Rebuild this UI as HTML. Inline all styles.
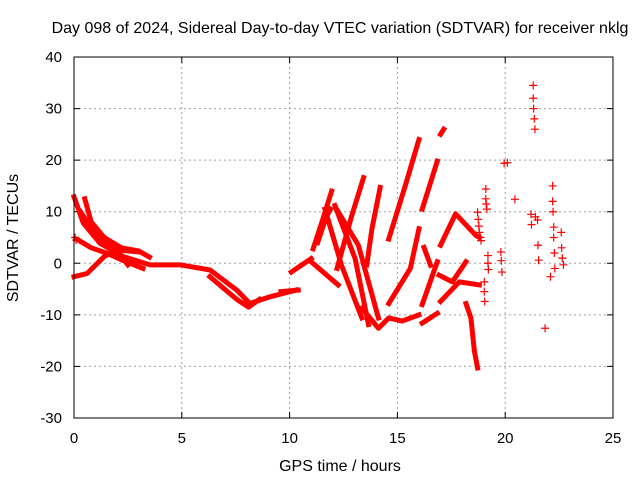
<!DOCTYPE html>
<html><head><meta charset="utf-8"><style>
body{margin:0;background:#fff}
svg{display:block;font-family:"Liberation Sans",sans-serif}
</style></head><body>
<svg id="chart" width="640" height="480">
<rect width="640" height="480" fill="#fff"/>
<text x="340" y="33" text-anchor="middle" font-size="16">Day 098 of 2024, Sidereal Day-to-day VTEC variation (SDTVAR) for receiver nklg</text>
<text x="340" y="471" text-anchor="middle" font-size="16">GPS time / hours</text>
<text transform="translate(18,238) rotate(-90)" text-anchor="middle" font-size="16">SDTVAR / TECUs</text>
<g id="grid"></g>
<g id="ticks"></g>
<g id="arcs"></g>
<g id="pts"></g>
<rect x="74" y="57" width="539" height="361" fill="none" stroke="#000" stroke-width="1"/>
</svg>
<script>
const xTicks=[0,5,10,15,20,25];
const yTicks=[-30,-20,-10,0,10,20,30,40];
// dense satellite arcs: [hours, TECU] pairs
const arcs=[
[[0,12.9],[0.43,7.8],[1.2,3.9],[2.29,1.3],[3.52,-0.3],[4.92,-0.3],[6.31,-1.3],[7.55,-5.2],[8.16,-7.8],[9.09,-6.5],[10.3,-5.2]],
[[6.3,-2.6],[7.55,-7],[8.1,-8.5],[8.6,-7]],
[[0.3,10],[0.93,6.1],[2,2.3],[2.5,-0.3]],
[[0.5,12.5],[0.8,8],[1.4,5],[2.2,3],[3,2.4],[3.5,1.2]],
[[0,-2.6],[0.6,-2.0],[1.4,1.3],[2.0,2.6],[3,2.2]],
[[0.2,4.5],[0.8,3],[1.5,2],[2.3,0.5],[3.2,-1]],
[[9.6,-5.5],[10.4,-5.2]],
[[10.08,-1.7],[11.0,0.9]],
[[11.09,2.8],[11.5,8],[11.95,14.0]],
[[11.3,4],[11.7,9],[11.9,10.5]],
[[12.2,-1],[12.88,9.2],[13.43,16.6]],
[[13.58,-0.3],[13.82,6.7],[14.2,14.7]],
[[14.6,4.7],[15.37,15.1],[16.0,24]],
[[16.15,10.5],[16.85,19.8]],
[[17.0,25],[17.15,26]],
[[14.6,-7.8],[15.6,-1],[16.0,6.7]],
[[16.15,-8],[16.85,0.3]],
[[16.23,3.1],[16.54,-0.4]],
[[17.0,3.5],[17.7,9.6],[18.64,5.4],[18.8,5]],
[[16.93,-2.3],[17.55,-3.6],[18.18,0.3]],
[[17.0,-7.4],[17.87,-3.6],[18.8,-4.2]],
[[18.18,-7.8],[18.41,-10.6],[18.57,-17],[18.72,-20.3]],
[[12.1,11.2],[13.04,0.9],[13.66,-11.9]],
[[11.64,10.5],[12.41,-0.4],[13.35,-10.6]],
[[12.18,10.5],[13.19,3.5],[14.12,-10.6]],
[[13.35,-8.7],[14.12,-12.6],[14.6,-10.6],[15.22,-11.2],[16.0,-10]],
[[11.0,0.3],[12.25,-4.2]],
[[16.15,-11.6],[16.85,-9.7]]
];
// sparse points
const sparseT=[0.05,0.1,18.72,18.75,18.78,18.8,18.85,18.88,19.1,19.1,19.12,19.15,19.2,19.2,19.22,19.03,19.03,19.05,19.8,19.82,19.85,20.1,19.95,20.45,21.3,21.3,21.32,21.35,21.38,21.2,21.22,21.5,21.52,21.55,21.4,21.85,22.1,22.2,22.2,22.22,22.25,22.25,22.28,22.3,22.6,22.62,22.65,22.7];
const sparseV=[5,4.5,9.9,8.5,7.2,6,5,4.4,14.4,12.5,11.5,10.5,1.5,0,-1.2,-3.6,-5.5,-7.4,2.2,0.5,-1.7,19.5,19.4,12.4,34.5,32,30,28,26,9.5,7.5,8.4,3.5,0.6,9,-12.6,-2.6,15,12,10,7,5,2,-1,6,3,1,-0.3];
const X=t=>74+t*539/25, Y=v=>57+(40-v)*361/70;
const NS="http://www.w3.org/2000/svg";
const g=document.getElementById('grid'),tk=document.getElementById('ticks'),ag=document.getElementById('arcs'),pg=document.getElementById('pts');
function mk(tag,at,par){const e=document.createElementNS(NS,tag);for(const k in at)e.setAttribute(k,at[k]);par.appendChild(e);return e;}
xTicks.forEach(t=>{const x=X(t);
 if(t>0&&t<25){const l=mk('line',{x1:x,x2:x,y1:57,y2:418,stroke:'#a0a0a0','stroke-dasharray':'2,3'},g);
 
 }
 const m=mk('path',{d:`M${x},418v-6M${x},57v6`,stroke:'#000'},tk);
 
 
 const tx=mk('text',{x:x,y:443,'text-anchor':'middle','font-size':15},tk);tx.textContent=t;
 
 });
yTicks.forEach(v=>{const y=Y(v);
 if(v>-30&&v<40){const l=mk('line',{x1:74,x2:613,y1:y,y2:y,stroke:'#a0a0a0','stroke-dasharray':'2,3'},g);
 
 }
 const m=mk('path',{d:`M74,${y}h6M613,${y}h-6`,stroke:'#000'},tk);
 
 
 const tx=mk('text',{x:62,y:y+5,'text-anchor':'end','font-size':15},tk);tx.textContent=v;
 
 });
arcs.forEach(a=>{const p=mk('polyline',{points:a.map(d=>X(d[0])+','+Y(d[1])).join(' '),fill:'none',stroke:'#f00','stroke-width':5,'stroke-linejoin':'round','stroke-linecap':'square'},ag);
 
 });
sparseT.forEach((t,i)=>{const x=X(t),y=Y(sparseV[i]);
 const p=mk('path',{d:`M${x-4},${y}h8M${x},${y-4}v8`,stroke:'#f00','stroke-width':1.2},pg);
 
 });
</script>
</body></html>
